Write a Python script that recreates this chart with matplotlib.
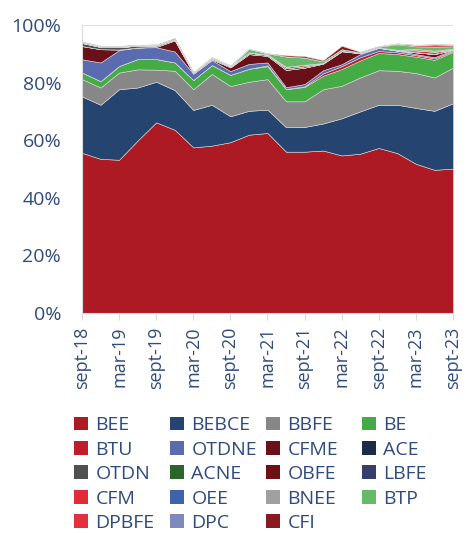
import numpy as np
import matplotlib
matplotlib.use('Agg')
import matplotlib.pyplot as plt
from matplotlib.patches import Patch

plt.rcParams['font.family'] = ['Open Sans', 'DejaVu Sans']

# quarters sept-18 .. sept-23 (21 points), shares in %
quarters = ['sept-18', 'dec-18', 'mar-19', 'jun-19', 'sept-19', 'dec-19', 'mar-20',
            'jun-20', 'sept-20', 'dec-20', 'mar-21', 'jun-21', 'sept-21', 'dec-21',
            'mar-22', 'jun-22', 'sept-22', 'dec-22', 'mar-23', 'jun-23', 'sept-23']

names = ['BEE', 'BEBCE', 'BBFE', 'BE', 'BTU', 'OTDNE', 'CFME', 'ACE', 'OTDN', 'ACNE',
         'OBFE', 'LBFE', 'CFM', 'OEE', 'BNEE', 'BTP', 'DPBFE', 'DPC', 'CFI']
colors = ['#AD1A24', '#264470', '#878787', '#45AB45', '#BE1D2A', '#5A6BB0', '#6A1018',
          '#1B2B4A', '#505050', '#2A6628', '#6E1015', '#353F6A', '#E12B37', '#3C64AA',
          '#A0A0A0', '#66BB66', '#E3303E', '#7E8ABF', '#8B1A1F']

bee   = [55.6, 53.5, 53.2, 59.9, 66.2, 63.6, 57.5, 58.1, 59.3, 61.9, 62.5,
         56.0, 56.0, 56.4, 54.7, 55.3, 57.3, 55.5, 51.8, 49.7, 50.1]
bebce = [19.6, 18.8, 24.5, 18.4, 14.1, 13.8, 13.0, 14.2, 9.0, 8.3, 8.1,
         8.5, 8.6, 9.4, 12.9, 14.7, 15.0, 16.8, 19.4, 20.5, 22.7]
bbfe  = [6.0, 6.0, 5.8, 6.3, 4.2, 6.7, 7.2, 10.7, 10.5, 10.1, 10.6,
         9.0, 8.9, 11.9, 11.3, 11.8, 12.0, 11.8, 12.1, 11.6, 12.4]
be    = [2.3, 2.2, 2.3, 3.6, 3.7, 2.9, 3.2, 3.1, 3.9, 4.5, 4.5,
         4.2, 5.0, 4.7, 5.8, 5.9, 6.0, 5.8, 5.7, 6.1, 5.5]
btu   = [0, 0, 0, 0, 0, 0, 0, 0, 0, 0, 0.3,
         0.1, 0.2, 0.8, 1.0, 1.1, 0.7, 0.6, 0.5, 0.5, 0.3]
otdne = [4.6, 6.5, 5.5, 4.0, 4.1, 3.8, 2.2, 1.7, 1.3, 1.7, 1.0,
         0.6, 0.8, 1.1, 0.7, 1.1, 1.1, 0.6, 0.4, 0.4, 0.4]
cfme  = [4.6, 4.6, 0.2, 0, 0.1, 3.9, 0.1, 0.3, 1.3, 3.4, 2.3,
         6.0, 5.7, 2.3, 4.5, 0.3, 0, 0, 0.6, 1.1, 0]
ace   = [0] * 21
otdn  = [1.1, 0.8, 0.9, 0.6, 0.5, 0.3, 0.3, 0.4, 0.3, 0.5, 0.4,
         0.6, 0.5, 0.2, 0.1, 0.1, 0.1, 0.1, 0.1, 0.1, 0.1]
acne  = [0] * 21
obfe  = [0] * 21
lbfe  = [0] * 21
cfm   = [0, 0, 0, 0, 0, 0, 0, 0, 0, 0, 0,
         0.5, 0.5, 0, 0, 0, 0, 0, 0.6, 0.7, 0]
oee   = [0] * 21
bnee  = [0.4, 0.3, 0.3, 0.3, 0.3, 0.2, 0.1, 0.1, 0.1, 0.1, 0.1,
         0, 0, 0, 0, 0, 0, 0.2, 0.5, 0.4, 0.3]
btp   = [0, 0, 0, 0, 0, 0, 0, 0.2, 0.2, 1.2, 0.4,
         3.6, 2.5, 0.6, 0.6, 0.2, 0.3, 1.9, 0.9, 1.4, 0.8]
dpbfe = [0, 0, 0, 0, 0, 0, 0, 0, 0, 0, 0,
         0, 0, 0, 0, 0, 0, 0.3, 0.5, 0.8, 0.6]
dpc   = [0] * 21
cfi   = [0, 0, 0, 0, 0, 0.3, 0, 0, 0, 0, 0,
         0.4, 0.5, 0.4, 1.2, 0.2, 0.2, 0, 0, 0, 0]

series = [bee, bebce, bbfe, be, btu, otdne, cfme, ace, otdn, acne,
          obfe, lbfe, cfm, oee, bnee, btp, dpbfe, dpc, cfi]

text_col = '#2F4B7C'
x = np.arange(len(quarters))

fig = plt.figure(figsize=(4.66, 5.33), dpi=100)
ax = fig.add_axes([0.176, 0.413, 0.796, 0.540])

ax.stackplot(x, np.array(series), colors=colors, edgecolor='#d9d9d9', linewidth=0.4, zorder=2)

ax.set_xlim(0, len(quarters) - 1)
ax.set_ylim(0, 100)
ax.set_yticks(np.arange(0, 101, 20))
ax.set_yticklabels(['%d%%' % v for v in range(0, 101, 20)])
ax.set_xticks(x[::2])
ax.set_xticklabels(quarters[::2], rotation=90)
ax.grid(axis='y', color='#d9d9d9', linewidth=1.2, zorder=0)
ax.set_axisbelow(True)

for s in ['top', 'right']:
    ax.spines[s].set_visible(False)
for s in ['left', 'bottom']:
    ax.spines[s].set_color('#d9d9d9')
ax.tick_params(axis='y', length=0, pad=15, labelsize=14, labelcolor=text_col)
ax.tick_params(axis='x', length=5, color='#d9d9d9', pad=5, labelsize=13, labelcolor=text_col)

# legend: 4 evenly spaced columns, read row by row like the original
col_x = [74, 170, 266, 362]
for c in range(4):
    idx = [r * 4 + c for r in range(5) if r * 4 + c < len(names)]
    handles = [Patch(facecolor=colors[i], edgecolor='none') for i in idx]
    fig.legend(handles, [names[i] for i in idx], loc='upper left',
               bbox_to_anchor=(col_x[c] / 466, 0.219), frameon=False, fontsize=14,
               labelcolor=text_col, handlelength=0.7, handleheight=0.7,
               handletextpad=0.4, labelspacing=0.33, borderaxespad=0, borderpad=0)

fig.savefig('out.png', dpi=100)
